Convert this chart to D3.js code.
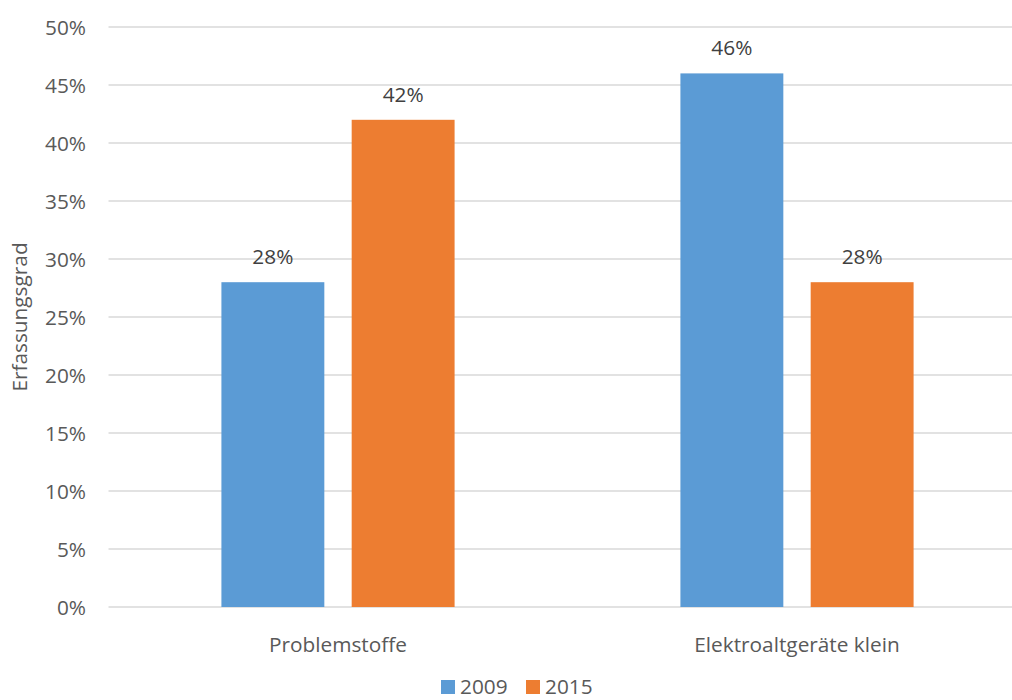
<!DOCTYPE html>
<html>
<head>
<meta charset="utf-8">
<script src="https://cdn.jsdelivr.net/npm/d3@7"></script>
<style>
  html, body { margin: 0; padding: 0; background: #fff; overflow: hidden; }
  svg { display: block; font-family: "Open Sans", sans-serif; }
</style>
</head>
<body>
<svg id="chart" width="1012" height="700"></svg>
<script>
// Erfassungsgrad by waste category, 2009 vs 2015
const categories = ["Problemstoffe", "Elektroaltgeräte klein"];
const years = ["2009", "2015"];
const values2009 = [0.28, 0.46];
const values2015 = [0.42, 0.28];
const yTicks = [0, 0.05, 0.10, 0.15, 0.20, 0.25, 0.30, 0.35, 0.40, 0.45, 0.50];
const yTitle = "Erfassungsgrad";

const colors = { "2009": "#5b9bd5", "2015": "#ed7d31" };
const textColor = "#595959";
const fontSize = 20.8;

const svg = d3.select("#chart");
const plot = { left: 108.5, right: 1026.5, top: 27, bottom: 607 };

const rows = categories.map((c, i) => ({
  category: c,
  series: [
    { year: years[0], value: values2009[i] },
    { year: years[1], value: values2015[i] }
  ]
}));

const x0 = d3.scaleBand()
  .domain(categories)
  .range([plot.left, plot.right])
  .paddingInner(0.492)
  .paddingOuter(0.246);

const x1 = d3.scaleBand()
  .domain(years)
  .range([0, x0.bandwidth()])
  .paddingInner(0.21);

const y = d3.scaleLinear()
  .domain([0, 0.5])
  .range([plot.bottom, plot.top]);

// horizontal gridlines
svg.append("g")
  .selectAll("line")
  .data(yTicks)
  .join("line")
  .attr("x1", plot.left)
  .attr("x2", plot.right)
  .attr("y1", d => y(d))
  .attr("y2", d => y(d))
  .attr("stroke", "#d9d9d9")
  .attr("stroke-width", 1.3);

// y axis tick labels
const yAxis = d3.axisLeft(y)
  .tickValues(yTicks)
  .tickFormat(d3.format(".0%"))
  .tickSize(0)
  .tickPadding(0);

const yAxisG = svg.append("g")
  .attr("transform", "translate(86,0)")
  .call(yAxis);
yAxisG.select(".domain").remove();
yAxisG.selectAll("text")
  .attr("font-family", "Open Sans, sans-serif")
  .attr("font-size", fontSize)
  .attr("fill", textColor)
  .attr("dy", "0.35em");

// bars
const groups = svg.append("g")
  .selectAll("g")
  .data(rows)
  .join("g")
  .attr("transform", d => `translate(${x0(d.category)},0)`);

groups.selectAll("rect")
  .data(d => d.series)
  .join("rect")
  .attr("x", d => x1(d.year))
  .attr("width", x1.bandwidth())
  .attr("y", d => y(d.value))
  .attr("height", d => y(0) - y(d.value))
  .attr("fill", d => colors[d.year]);

// value labels
groups.selectAll("text")
  .data(d => d.series)
  .join("text")
  .attr("x", d => x1(d.year) + x1.bandwidth() / 2)
  .attr("y", d => y(d.value) - 18)
  .attr("text-anchor", "middle")
  .attr("font-size", fontSize)
  .attr("fill", "#404040")
  .text(d => d3.format(".0%")(d.value));

// category axis labels
const xAxis = d3.axisBottom(x0).tickSize(0).tickPadding(0);
const xAxisG = svg.append("g")
  .attr("transform", `translate(0,${plot.bottom})`)
  .call(xAxis);
xAxisG.select(".domain").remove();
xAxisG.selectAll("text")
  .attr("font-family", "Open Sans, sans-serif")
  .attr("font-size", fontSize)
  .attr("fill", textColor)
  .attr("dy", 0)
  .attr("y", 45);

// y axis title
svg.append("text")
  .attr("transform", `translate(27,${(plot.top + plot.bottom) / 2}) rotate(-90)`)
  .attr("text-anchor", "middle")
  .attr("font-size", fontSize)
  .attr("fill", textColor)
  .text(yTitle);

// legend
const legendItems = [
  { year: years[0], x: 441 },
  { year: years[1], x: 526 }
];
const legend = svg.append("g");
legend.selectAll("rect")
  .data(legendItems)
  .join("rect")
  .attr("x", d => d.x)
  .attr("y", 680)
  .attr("width", 14)
  .attr("height", 14)
  .attr("fill", d => colors[d.year]);
legend.selectAll("text")
  .data(legendItems)
  .join("text")
  .attr("x", d => d.x + 19)
  .attr("y", 694)
  .attr("font-size", fontSize)
  .attr("fill", textColor)
  .text(d => d.year);
</script>
</body>
</html>
